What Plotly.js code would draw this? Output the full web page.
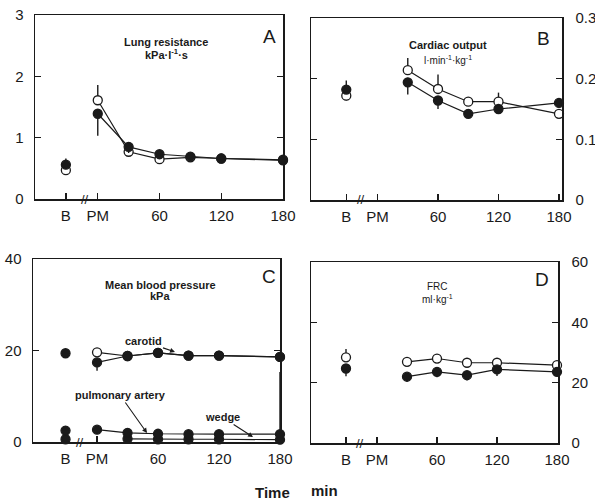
<!DOCTYPE html>
<html>
<head>
<meta charset="utf-8">
<script src="https://cdn.plot.ly/plotly-3.0.1.min.js"></script>
<style>
html,body{margin:0;padding:0;background:#fff;}
#chart{width:595px;height:503px;}
</style>
</head>
<body>
<div id="chart"></div>
<script>
// ---------- data ----------
var times = [0, 30, 60, 90, 120, 180];          // PM = 0 (post-methacholine), then minutes
var baseTime = -31;                               // "B" baseline position
var tickVals = [-31, 0, 60, 120, 180];
var tickText = ['B', 'PM', '60', '120', '180'];

// A: lung resistance (kPa·l-1·s)
var lungOpen = [1.61, 0.77, 0.65, 0.68, 0.66, 0.64];
var lungFilled = [1.39, 0.85, 0.73, 0.69, 0.66, 0.63];
var lungOpenBase = 0.47, lungFilledBase = 0.56;
var lungOpenErrUp = [0.25, 0, 0, 0, 0, 0];
var lungFilledErrDown = [0.36, 0.1, 0.07, 0, 0, 0];

// B: cardiac output (l·min-1·kg-1)
var cardOpen = [null, 0.214, 0.183, 0.162, 0.162, 0.142];
var cardFilled = [null, 0.194, 0.164, 0.142, 0.150, 0.160];
var cardOpenBase = 0.172, cardFilledBase = 0.182;
var cardOpenErrUp = [0, 0.02, 0.024, 0, 0.015, 0];
var cardFilledErrDown = [0, 0.02, 0.014, 0, 0, 0];

// C: mean blood pressure (kPa)
var carotidOpen = [19.6, 18.8, 19.5, 18.9, 18.9, 18.6];
var carotidFilled = [17.4, 18.8, 19.5, 18.9, 18.9, 18.6];
var carotidBase = 19.4;
var carotidFilledErrDown = [1.8, 0, 0, 0, 0, 0];
var pulmonary = [2.7, 2.0, 1.8, 1.7, 1.7, 1.7];
var pulmonaryBase = 2.5;
var pulmonaryErrUp = [0, 0, 0, 0, 0, 13.6];
var wedge = [null, 0.7, 0.6, 0.6, 0.6, 0.5];
var wedgeBase = 0.6;

// D: FRC (ml·kg-1)
var frcOpen = [null, 26.9, 28.0, 26.6, 26.6, 25.8];
var frcFilled = [null, 22.0, 23.6, 22.5, 24.4, 23.6];
var frcOpenBase = 28.4, frcFilledBase = 24.7;
var frcOpenErrUp = [0, 1.5, 1.5, 1.2, 1.5, 1.2];
var frcFilledErrDown = [0, 1.8, 1.8, 1.8, 2.2, 1.5];

// ---------- helpers ----------
var W = 595, H = 503;
function px(x){ return x / W; }
function py(y){ return 1 - y / H; }
var INK = '#1a1a1a';
var FONT = 'Liberation Sans, Arial, sans-serif';

function series(xa, ya, y, filled, errUp, errDown, showLine) {
  var t = {
    x: times, y: y, xaxis: xa, yaxis: ya, type: 'scatter',
    mode: showLine === false ? 'markers' : 'lines+markers',
    line: {color: INK, width: 1.2},
    marker: {symbol: 'circle', size: 9, color: filled ? INK : '#ffffff', line: {color: INK, width: 1.3}},
    showlegend: false, hoverinfo: 'skip', cliponaxis: false
  };
  if (errUp || errDown) {
    t.error_y = {type: 'data', symmetric: false,
      array: errUp || times.map(function(){return 0;}),
      arrayminus: errDown || times.map(function(){return 0;}),
      color: INK, thickness: 1.4, width: 0};
  }
  return t;
}
function basePoint(xa, ya, v, filled, up, down) {
  return {
    x: [baseTime], y: [v], xaxis: xa, yaxis: ya, type: 'scatter', mode: 'markers',
    marker: {symbol: 'circle', size: 9, color: filled ? INK : '#ffffff', line: {color: INK, width: 1.3}},
    error_y: {type: 'data', symmetric: false, array: [up], arrayminus: [down], color: INK, thickness: 1.4, width: 0},
    showlegend: false, hoverinfo: 'skip', cliponaxis: false
  };
}

var data = [
  // A
  series('x', 'y', lungOpen, false, lungOpenErrUp, null),
  series('x', 'y', lungFilled, true, null, lungFilledErrDown),
  basePoint('x', 'y', lungOpenBase, false, 0, 0.07),
  basePoint('x', 'y', lungFilledBase, true, 0.1, 0),
  // B
  series('x2', 'y2', cardOpen, false, cardOpenErrUp, null),
  series('x2', 'y2', cardFilled, true, null, cardFilledErrDown),
  basePoint('x2', 'y2', cardOpenBase, false, 0, 0.008),
  basePoint('x2', 'y2', cardFilledBase, true, 0.015, 0),
  // C
  series('x3', 'y3', carotidOpen, false, null, null),
  series('x3', 'y3', carotidFilled, true, null, carotidFilledErrDown),
  basePoint('x3', 'y3', carotidBase, true, 0.8, 0.8),
  series('x3', 'y3', wedge, true, null, null),
  series('x3', 'y3', pulmonary, true, pulmonaryErrUp, null),
  basePoint('x3', 'y3', wedgeBase, true, 0, 0),
  basePoint('x3', 'y3', pulmonaryBase, true, 0.5, 0),
  // D
  series('x4', 'y4', frcOpen, false, frcOpenErrUp, null),
  series('x4', 'y4', frcFilled, true, null, frcFilledErrDown),
  basePoint('x4', 'y4', frcOpenBase, false, 2.8, 0),
  basePoint('x4', 'y4', frcFilledBase, true, 0, 2.6)
];

function xax(domain, range) {
  return {domain: domain, range: range, tickvals: tickVals, ticktext: tickText,
    ticks: 'inside', ticklen: 6, tickwidth: 1.3, tickcolor: INK, ticklabelstandoff: 2,
    showline: true, linecolor: INK, linewidth: 1.5, mirror: true,
    showgrid: false, zeroline: false, fixedrange: true,
    tickfont: {family: FONT, size: 15, color: INK}};
}
function yax(domain, range, dtick, side, anchor) {
  return {domain: domain, range: range, dtick: dtick, side: side, anchor: anchor,
    ticks: 'inside', ticklen: 6, tickwidth: 1.3, tickcolor: INK,
    ticklabelstandoff: side === 'right' ? 9 : 7,
    showline: true, linecolor: INK, linewidth: 1.5, mirror: 'ticks',
    showgrid: false, zeroline: false, fixedrange: true,
    tickfont: {family: FONT, size: 15, color: INK}};
}

var layout = {
  width: W, height: H,
  margin: {l: 0, r: 0, t: 0, b: 0},
  paper_bgcolor: '#ffffff', plot_bgcolor: '#ffffff',
  showlegend: false,
  xaxis: xax([px(35), px(283)], [-61, 180]),
  yaxis: yax([py(199), py(15)], [0, 3], 1, 'left', 'x'),
  xaxis2: xax([px(311), px(562)], [-66, 183]),
  yaxis2: yax([py(200), py(18)], [0, 0.3], 0.1, 'right', 'x2'),
  xaxis3: xax([px(33), px(280)], [-63, 180]),
  yaxis3: yax([py(442), py(259)], [0, 40], 20, 'left', 'x3'),
  xaxis4: xax([px(311), px(558)], [-66, 181]),
  yaxis4: yax([py(443), py(262)], [0, 60], 20, 'right', 'x4'),
  annotations: []
};
layout.xaxis.anchor = 'y'; layout.xaxis2.anchor = 'y2'; layout.xaxis3.anchor = 'y3'; layout.xaxis4.anchor = 'y4';

function txt(x, y, text, size, bold) {
  return {xref: 'paper', yref: 'paper', x: px(x), y: py(y), text: text, showarrow: false,
    xanchor: 'center', yanchor: 'middle',
    font: {family: FONT, size: size, color: INK, weight: bold ? 'bold' : 'normal'}};
}
function arrowTxt(textX, textY, tipX, tipY, text) {
  return {xref: 'paper', yref: 'paper', x: px(tipX), y: py(tipY), text: text,
    showarrow: true, ax: textX - tipX, ay: textY - tipY,
    arrowhead: 2, arrowsize: 0.9, arrowwidth: 1.1, arrowcolor: INK, standoff: 0,
    font: {family: FONT, size: 11, color: INK, weight: 'bold'}};
}
var A = layout.annotations;
A.push(txt(166, 42, 'Lung resistance', 11, true));
A.push(txt(166, 54, 'kPa·l<sup>-1</sup>·s', 11, true));
A.push(txt(269, 36, 'A', 19, false));
A.push(txt(448, 45, 'Cardiac output', 11, true));
A.push(txt(448, 60, 'l·min<sup>-1</sup>·kg<sup>-1</sup>', 10, false));
A.push(txt(543, 39, 'B', 19, false));
A.push(txt(160, 285, 'Mean blood pressure', 11, true));
A.push(txt(160, 296, 'kPa', 11, true));
A.push(txt(269, 276, 'C', 19, false));
A.push(txt(437, 286, 'FRC', 10, false));
A.push(txt(437, 299, 'ml·kg<sup>-1</sup>', 10, false));
A.push(txt(542, 279, 'D', 19, false));
A.push(arrowTxt(143, 341, 175, 352, 'carotid'));
A.push(arrowTxt(120, 395, 147, 433, 'pulmonary artery'));
A.push(arrowTxt(222, 417, 253, 437, 'wedge'));
A.push(txt(272, 492, 'Time', 15, true));
A.push(txt(325, 490, 'min', 15, true));
// axis break marks
A.push(txt(85, 199, '//', 13, false));
A.push(txt(361, 200, '//', 13, false));
A.push(txt(80, 442, '//', 13, false));
A.push(txt(360, 443, '//', 13, false));

Plotly.newPlot('chart', data, layout, {displayModeBar: false, staticPlot: true});
</script>
</body>
</html>
